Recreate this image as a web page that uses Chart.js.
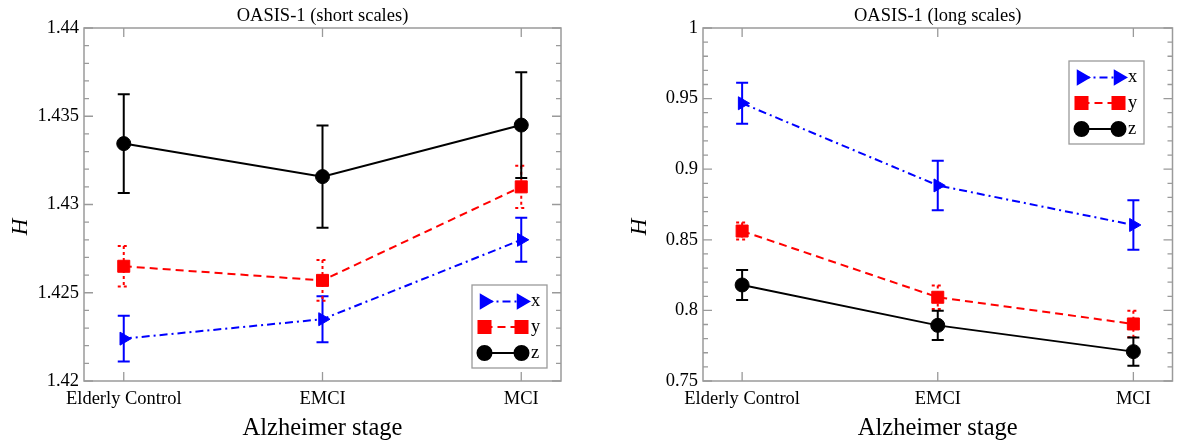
<!DOCTYPE html>
<html><head><meta charset="utf-8">
<script src="https://cdn.jsdelivr.net/npm/chart.js@4.4.1/dist/chart.umd.min.js"></script>
<style>
html,body{margin:0;padding:0;background:#fff;}
#wrap{position:relative;width:1182px;height:441px;overflow:hidden;background:#fff;}
canvas{position:absolute;top:0;}
</style></head><body>
<div id="wrap">
<canvas id="c1" width="591" height="441" style="left:0;width:591px;height:441px"></canvas>
<canvas id="c2" width="591" height="441" style="left:591px;width:591px;height:441px"></canvas>
</div>
<script>
// ---------- data ----------
const categories = ['Elderly Control', 'EMCI', 'MCI'];
const seriesNames = ['x', 'y', 'z'];

const shortX = [1.4224, 1.4235, 1.4280];
const shortXErr = [0.0013, 0.0013, 0.00125];
const shortY = [1.4265, 1.4257, 1.4310];
const shortYErr = [0.00115, 0.00115, 0.0012];
const shortZ = [1.43345, 1.43158, 1.4345];
const shortZErr = [0.0028, 0.0029, 0.0030];
const shortTickLabels = ['1.42', '1.425', '1.43', '1.435', '1.44'];

const longX = [0.9467, 0.8885, 0.8605];
const longXErr = [0.0145, 0.0175, 0.0175];
const longY = [0.8562, 0.8093, 0.7904];
const longYErr = [0.0060, 0.0083, 0.0094];
const longZ = [0.8180, 0.7894, 0.7708];
const longZErr = [0.0106, 0.0104, 0.0100];
const longTickLabels = ['0.75', '0.8', '0.85', '0.9', '0.95', '1'];

// ---------- styles ----------
const FONT = "'Liberation Serif','Times New Roman','DejaVu Serif',serif";
const GRAY = '#9a9a9a';
const seriesStyle = [
  {color: '#0000ff', dash: [8, 4, 2, 4], errDash: [], pointStyle: 'triangle', rotation: 90, radius: 7.5},
  {color: '#ff0000', dash: [8, 5], errDash: [3, 3], pointStyle: 'rect', rotation: 0, radius: 8.5},
  {color: '#000000', dash: [], errDash: [], pointStyle: 'circle', rotation: 0, radius: 7}
];

function toPoints(vals) { return vals.map((v, i) => ({x: i, y: v})); }

function labelFor(value, labels) {
  for (const l of labels) { if (Math.abs(parseFloat(l) - value) < 1e-9) return l; }
  return '';
}

function makeChart(id, cfg) {
  const W = 591;
  const datasets = cfg.values.map((vals, k) => {
    const s = seriesStyle[k];
    return {
      label: seriesNames[k], data: toPoints(vals),
      borderColor: s.color, backgroundColor: s.color, borderWidth: 2, borderDash: s.dash,
      pointStyle: s.pointStyle, rotation: s.rotation, pointRadius: s.radius,
      pointBackgroundColor: s.color, pointBorderColor: s.color, pointBorderWidth: 1,
      tension: 0, fill: false
    };
  });

  const custom = {
    id: 'custom',
    beforeDatasetsDraw(chart) {
      const ctx = chart.ctx, xs = chart.scales.x, ys = chart.scales.y;
      ctx.save();
      cfg.values.forEach((vals, k) => {
        const s = seriesStyle[k];
        ctx.strokeStyle = s.color; ctx.lineWidth = 2; ctx.setLineDash(s.errDash);
        vals.forEach((v, j) => {
          const e = cfg.errors[k][j];
          const px = xs.getPixelForValue(j);
          const pt = ys.getPixelForValue(v + e), pb = ys.getPixelForValue(v - e);
          ctx.beginPath();
          ctx.moveTo(px, pt); ctx.lineTo(px, pb);
          ctx.moveTo(px - 6, pt); ctx.lineTo(px + 6, pt);
          ctx.moveTo(px - 6, pb); ctx.lineTo(px + 6, pb);
          ctx.stroke();
        });
      });
      ctx.restore();
    },
    afterDraw(chart) {
      const ctx = chart.ctx, a = chart.chartArea, xs = chart.scales.x, ys = chart.scales.y;
      ctx.save();
      // frame
      ctx.strokeStyle = GRAY; ctx.lineWidth = 1.5; ctx.setLineDash([]);
      ctx.strokeRect(a.left, a.top, a.right - a.left, a.bottom - a.top);
      // ticks (inward, both sides)
      ctx.lineWidth = 1.3;
      ctx.beginPath();
      ys.ticks.forEach(t => {
        const py = ys.getPixelForValue(t.value);
        const len = labelFor(t.value, cfg.tickLabels) ? 9 : 5;
        ctx.moveTo(a.left, py); ctx.lineTo(a.left + len, py);
        ctx.moveTo(a.right, py); ctx.lineTo(a.right - len, py);
      });
      xs.ticks.forEach(t => {
        const px = xs.getPixelForValue(t.value);
        ctx.moveTo(px, a.bottom); ctx.lineTo(px, a.bottom - 9);
        ctx.moveTo(px, a.top); ctx.lineTo(px, a.top + 9);
      });
      ctx.stroke();
      // titles
      const cx = (a.left + a.right) / 2;
      ctx.fillStyle = '#000';
      ctx.textAlign = 'center'; ctx.textBaseline = 'alphabetic';
      ctx.font = '18.5px ' + FONT;
      ctx.fillText(cfg.title, cx, 21);
      ctx.font = '24.5px ' + FONT;
      ctx.fillText('Alzheimer stage', cx, 435);
      ctx.save();
      ctx.translate(a.left - 57, 227);
      ctx.rotate(-Math.PI / 2);
      ctx.font = 'italic 23px ' + FONT;
      ctx.fillText('H', 0, 0);
      ctx.restore();
      // legend
      const L = cfg.legend;
      ctx.fillStyle = '#fff';
      ctx.fillRect(L.x, L.y, 75, 83);
      ctx.strokeStyle = GRAY; ctx.lineWidth = 1.3;
      ctx.strokeRect(L.x, L.y, 75, 83);
      const rows = [16.5, 42, 68];
      seriesStyle.forEach((s, k) => {
        const ry = L.y + rows[k];
        const x1 = L.x + 12.5, x2 = L.x + 49.5;
        ctx.strokeStyle = s.color; ctx.lineWidth = 2; ctx.setLineDash(s.dash);
        ctx.beginPath(); ctx.moveTo(x1, ry); ctx.lineTo(x2, ry); ctx.stroke();
        ctx.setLineDash([]);
        ctx.fillStyle = s.color; ctx.strokeStyle = s.color;
        [x1, x2].forEach(px => Chart.helpers.drawPoint(ctx, {pointStyle: s.pointStyle, rotation: s.rotation, radius: s.radius, borderWidth: 1}, px, ry));
        ctx.fillStyle = '#000';
        ctx.font = '18.5px ' + FONT; ctx.textAlign = 'left'; ctx.textBaseline = 'middle';
        ctx.fillText(seriesNames[k], L.x + 59, ry);
      });
      ctx.restore();
    }
  };

  return new Chart(document.getElementById(id), {
    type: 'line',
    data: {datasets},
    options: {
      responsive: false, animation: false, devicePixelRatio: 1,
      layout: {padding: {left: 0, top: 28, right: W - cfg.plotRight, bottom: 0}},
      plugins: {legend: {display: false}, tooltip: {enabled: false}, title: {display: false}},
      scales: {
        x: {
          type: 'linear', min: -0.2, max: 2.2,
          afterBuildTicks: s => { s.ticks = categories.map((c, i) => ({value: i})); },
          ticks: {callback: v => categories[v] ?? '', font: {family: FONT, size: 18.5}, color: '#000', padding: 7, maxRotation: 0, autoSkip: false},
          grid: {display: false, drawTicks: false}, border: {display: false},
          afterFit: s => { s.height = 60; }
        },
        y: {
          type: 'linear', min: cfg.min, max: cfg.max,
          ticks: {stepSize: cfg.step, autoSkip: false, callback: v => labelFor(v, cfg.tickLabels), font: {family: FONT, size: 18.5}, color: '#000', padding: 5},
          grid: {display: false, drawTicks: false}, border: {display: false},
          afterFit: s => { s.width = cfg.plotLeft; }
        }
      }
    },
    plugins: [custom]
  });
}

makeChart('c1', {
  title: 'OASIS-1 (short scales)',
  values: [shortX, shortY, shortZ], errors: [shortXErr, shortYErr, shortZErr],
  tickLabels: shortTickLabels, min: 1.42, max: 1.44, step: 0.001,
  plotLeft: 84, plotRight: 561, legend: {x: 472, y: 285}
});
makeChart('c2', {
  title: 'OASIS-1 (long scales)',
  values: [longX, longY, longZ], errors: [longXErr, longYErr, longZErr],
  tickLabels: longTickLabels, min: 0.75, max: 1.0, step: 0.01,
  plotLeft: 112, plotRight: 590, legend: {x: 478, y: 61}
});
</script>
</body></html>
